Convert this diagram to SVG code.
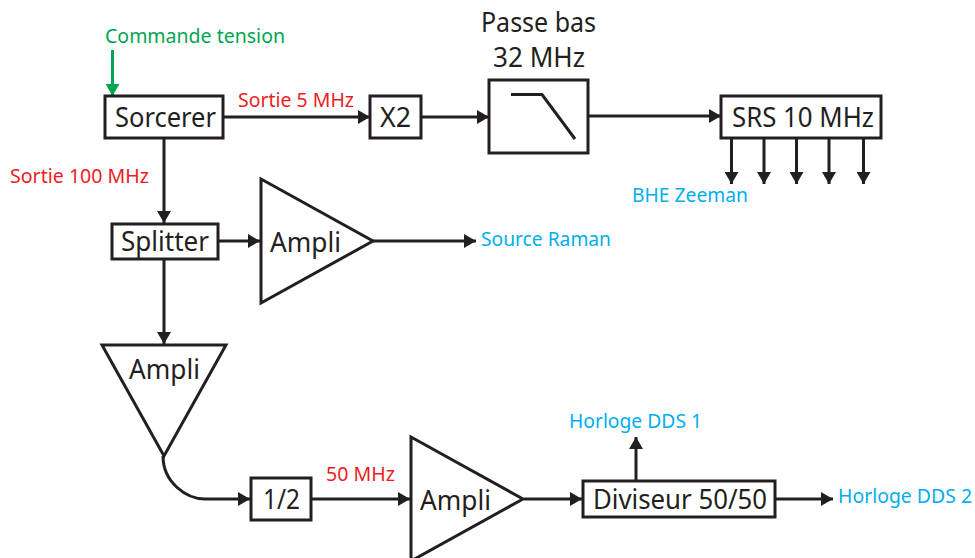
<svg xmlns="http://www.w3.org/2000/svg" width="975" height="558" viewBox="0 0 975 558">
<style>
text{font-family:"Noto Sans","Open Sans","Liberation Sans",sans-serif}
.box{fill:#fff;stroke:#231f20;stroke-width:3}
.t{font-size:27px;fill:#231f20}
.s{font-size:20px}
.r{fill:#ed1c24}.b{fill:#00aeef}.g{fill:#00a651}
.c{fill:none;stroke:#231f20;stroke-width:3}
</style>
<defs>
<marker id="a" markerUnits="userSpaceOnUse" markerWidth="12" markerHeight="14" refX="12" refY="7" orient="auto"><path d="M0 0L12 7L0 14Z" fill="#231f20"/></marker>
<marker id="ag" markerUnits="userSpaceOnUse" markerWidth="12" markerHeight="14" refX="12" refY="7" orient="auto"><path d="M0 0L12 7L0 14Z" fill="#00a651"/></marker>
</defs>
<g id="connectors">
<path class="c" d="M112.500 50V96" style="stroke:#00a651" marker-end="url(#ag)"/>
<path class="c" d="M224 117H370" marker-end="url(#a)"/>
<path class="c" d="M421 117H489" marker-end="url(#a)"/>
<path class="c" d="M588 116H721" marker-end="url(#a)"/>
<path class="c" d="M731.500 138V184" marker-end="url(#a)"/>
<path class="c" d="M764 138V184" marker-end="url(#a)"/>
<path class="c" d="M796.500 138V184" marker-end="url(#a)"/>
<path class="c" d="M829 138V184" marker-end="url(#a)"/>
<path class="c" d="M863.500 138V184" marker-end="url(#a)"/>
<path class="c" d="M164 138V223" marker-end="url(#a)"/>
<path class="c" d="M218 241H260" marker-end="url(#a)"/>
<path class="c" d="M373 241H476" marker-end="url(#a)"/>
<path class="c" d="M164 259V344" marker-end="url(#a)"/>
<path class="c" d="M163 456C163 482 186 499 205 499H250" marker-end="url(#a)"/>
<path class="c" d="M311 499H410" marker-end="url(#a)"/>
<path class="c" d="M524 499H582" marker-end="url(#a)"/>
<path class="c" d="M636 481V437" marker-end="url(#a)"/>
<path class="c" d="M776 499H833" marker-end="url(#a)"/>
</g>
<g id="node-commande"><text class="s g" x="105" y="43" textLength="180" lengthAdjust="spacingAndGlyphs">Commande tension</text></g>
<g id="node-sorcerer"><rect class="box" x="105" y="96" width="118" height="42"/><text class="t" x="115" y="127" textLength="101" lengthAdjust="spacingAndGlyphs">Sorcerer</text></g>
<g id="node-x2"><rect class="box" x="370" y="96" width="51" height="42"/><text class="t" x="380" y="127" textLength="31" lengthAdjust="spacingAndGlyphs">X2</text></g>
<g id="node-passebas"><text class="t" x="481" y="32" textLength="115" lengthAdjust="spacingAndGlyphs">Passe bas</text><text class="t" x="493" y="67" textLength="92" lengthAdjust="spacingAndGlyphs">32 MHz</text><rect class="box" x="489" y="80" width="99" height="73"/><path class="c" d="M511 94.500H542L575 139"/></g>
<g id="node-srs"><rect class="box" x="721" y="96" width="160" height="42"/><text class="t" x="732" y="127" textLength="142" lengthAdjust="spacingAndGlyphs">SRS 10 MHz</text></g>
<g id="node-splitter"><rect class="box" x="112" y="224" width="106" height="35"/><text class="t" x="121" y="251" textLength="88" lengthAdjust="spacingAndGlyphs">Splitter</text></g>
<g id="node-ampli1"><path class="box" d="M261 179L373 241L261 303Z"/><text class="t" x="270" y="252" textLength="71" lengthAdjust="spacingAndGlyphs">Ampli</text></g>
<g id="node-ampli2"><path class="box" d="M102 345H226L164 456Z"/><text class="t" x="129" y="379" textLength="71" lengthAdjust="spacingAndGlyphs">Ampli</text></g>
<g id="node-half"><rect class="box" x="251" y="478" width="60" height="42"/><text class="t" x="263" y="509" textLength="37" lengthAdjust="spacingAndGlyphs">1/2</text></g>
<g id="node-ampli3"><path class="box" d="M411 437L523 499L411 561Z"/><text class="t" x="420" y="510" textLength="71" lengthAdjust="spacingAndGlyphs">Ampli</text></g>
<g id="node-diviseur"><rect class="box" x="583" y="481" width="192" height="36"/><text class="t" x="593" y="509" textLength="174" lengthAdjust="spacingAndGlyphs">Diviseur 50/50</text></g>
<g id="labels">
<text class="s r" x="238" y="107" textLength="116" lengthAdjust="spacingAndGlyphs">Sortie 5 MHz</text>
<text class="s r" x="10" y="183" textLength="139" lengthAdjust="spacingAndGlyphs">Sortie 100 MHz</text>
<text class="s r" x="326" y="481" textLength="69" lengthAdjust="spacingAndGlyphs">50 MHz</text>
<text class="s b" x="632" y="202" textLength="116" lengthAdjust="spacingAndGlyphs">BHE Zeeman</text>
<text class="s b" x="481" y="246" textLength="130" lengthAdjust="spacingAndGlyphs">Source Raman</text>
<text class="s b" x="569" y="428" textLength="133" lengthAdjust="spacingAndGlyphs">Horloge DDS 1</text>
<text class="s b" x="838" y="503" textLength="134" lengthAdjust="spacingAndGlyphs">Horloge DDS 2</text>
</g>
</svg>
